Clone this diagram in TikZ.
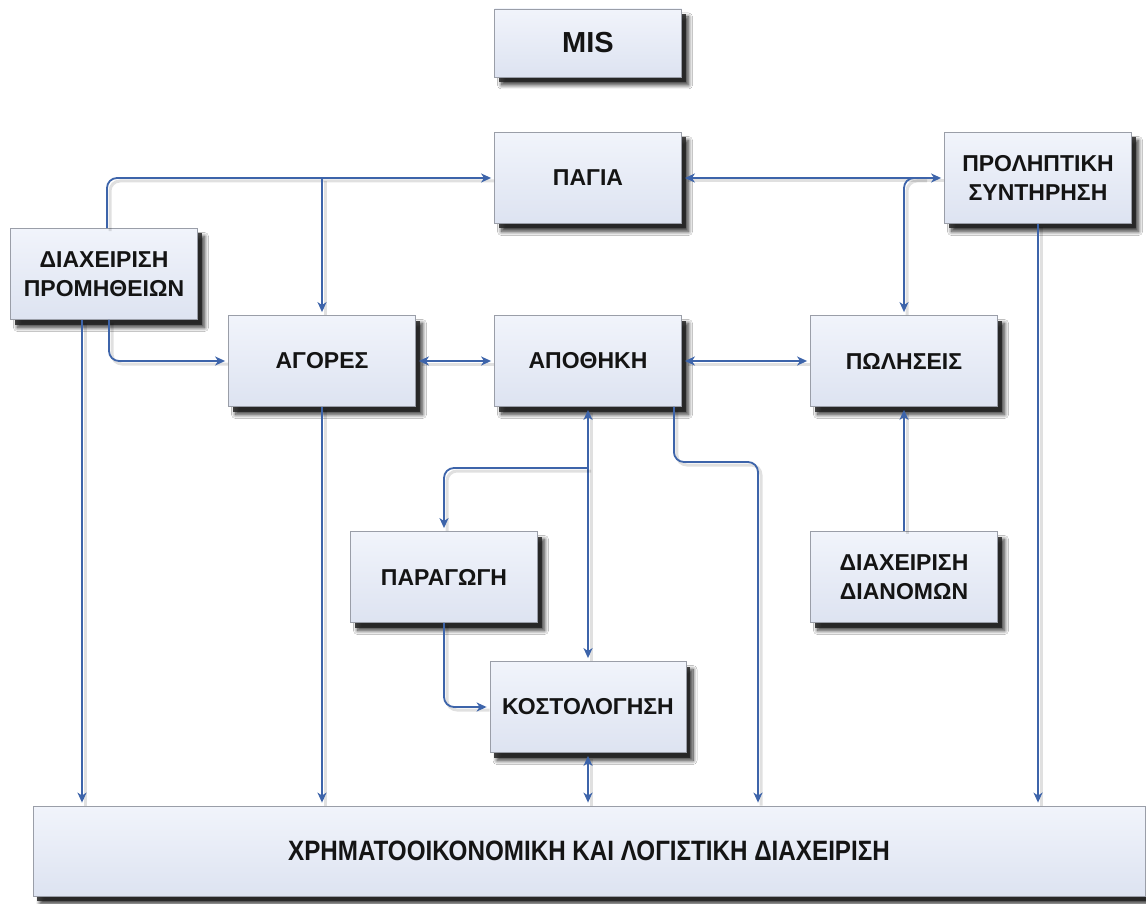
\documentclass[tikz,border=0pt]{standalone}
\usepackage{fontspec}
\setmainfont{Liberation Sans}
\usetikzlibrary{arrows.meta,shadows,shadows.blur}
\definecolor{lineblue}{HTML}{3D64AA}
\definecolor{boxtop}{HTML}{F1F4FB}
\definecolor{boxbot}{HTML}{DDE3F1}
\definecolor{boxedge}{HTML}{9A9EA8}
\tikzset{
  box/.style={draw=boxedge, line width=0.8pt, top color=boxtop, bottom color=boxbot,
    align=center, text=black!92, inner sep=2pt,
    font=\bfseries\fontsize{23}{29}\selectfont,
    minimum width=187pt, minimum height=91pt,
    blur shadow={shadow xshift=7pt, shadow yshift=-8pt, shadow blur steps=10, shadow blur radius=4pt, shadow opacity=80},
    drop shadow={shadow xshift=4pt, shadow yshift=-5pt, fill=black!85, opacity=0.85}},
  tipA/.tip={Stealth[length=10pt,width=9pt,inset=3pt]},
  conn/.style={draw=lineblue, line width=1.8pt, rounded corners=10pt,
    -tipA, shorten >=3pt,
    preaction={draw=black, line width=3pt, draw opacity=0.12, arrows=-, shorten >=3pt,
      transform canvas={shift={(3pt,-3pt)}}}},
  dconn/.style={conn, tipA-tipA, shorten <=3pt}
}
\begin{document}
\begin{tikzpicture}[x=1pt,y=-1pt]
\useasboundingbox (0,0) rectangle (1146,904);
\fill[white] (0,0) rectangle (1146,904);

% boxes
\node[box, minimum height=68pt, font=\bfseries\fontsize{29}{34}\selectfont] (mis) at (588,43) {MIS};
\node[box] (pagia) at (588,178) {ΠΑΓΙΑ};
\node[box] (prol) at (1038,178) {ΠΡΟΛΗΠΤΙΚΗ\\ΣΥΝΤΗΡΗΣΗ};
\node[box] (prom) at (104,274) {ΔΙΑΧΕΙΡΙΣΗ\\ΠΡΟΜΗΘΕΙΩΝ};
\node[box] (agores) at (322,361) {ΑΓΟΡΕΣ};
\node[box] (apothiki) at (588,361) {ΑΠΟΘΗΚΗ};
\node[box] (poliseis) at (904,361) {ΠΩΛΗΣΕΙΣ};
\node[box] (paragogi) at (444,577) {ΠΑΡΑΓΩΓΗ};
\node[box, minimum width=196pt] (kost) at (588,707) {ΚΟΣΤΟΛΟΓΗΣΗ};
\node[box] (dianom) at (904,577) {ΔΙΑΧΕΙΡΙΣΗ\\ΔΙΑΝΟΜΩΝ};
\node[box, minimum width=1112pt, minimum height=90pt] (fin) at (589,851)
  {\scalebox{0.865}[1]{\fontsize{28}{32}\selectfont ΧΡΗΜΑΤΟΟΙΚΟΝΟΜΙΚΗ ΚΑΙ ΛΟΓΙΣΤΙΚΗ ΔΙΑΧΕΙΡΙΣΗ}};

% helper coordinates
\coordinate (kinkA) at (758,462);
\coordinate (brK) at (588,468);
\coordinate (promL) at (82,320);

% connectors
\draw[conn] ([xshift=3pt]prom.north) |- (pagia.west);
\draw[conn] (agores.north |- pagia.west) -- (agores.north);
\draw[conn] ([xshift=5pt]prom.south) |- (agores.west);
\draw[conn] (promL |- prom.south) -- (promL |- fin.north);
\draw[dconn] (agores.east) -- (apothiki.west);
\draw[dconn] (apothiki.east) -- (poliseis.west);
\draw[dconn] (pagia.east) -- (prol.west);
\draw[conn] ([xshift=20pt]poliseis.north |- prol.west) -| (poliseis.north);
\draw[conn] (agores.south) -- (agores.south |- fin.north);
\draw[conn] ([xshift=-8pt]apothiki.south east) |- (kinkA) -- (kinkA |- fin.north);
\draw[dconn] (apothiki.south) -- (kost.north);
\draw[conn] (brK) -| (paragogi.north);
\draw[conn] (paragogi.south) |- (kost.west);
\draw[dconn] (kost.south) -- (kost.south |- fin.north);
\draw[conn] (dianom.north) -- (poliseis.south);
\draw[conn] (prol.south) -- (prol.south |- fin.north);
\end{tikzpicture}
\end{document}
